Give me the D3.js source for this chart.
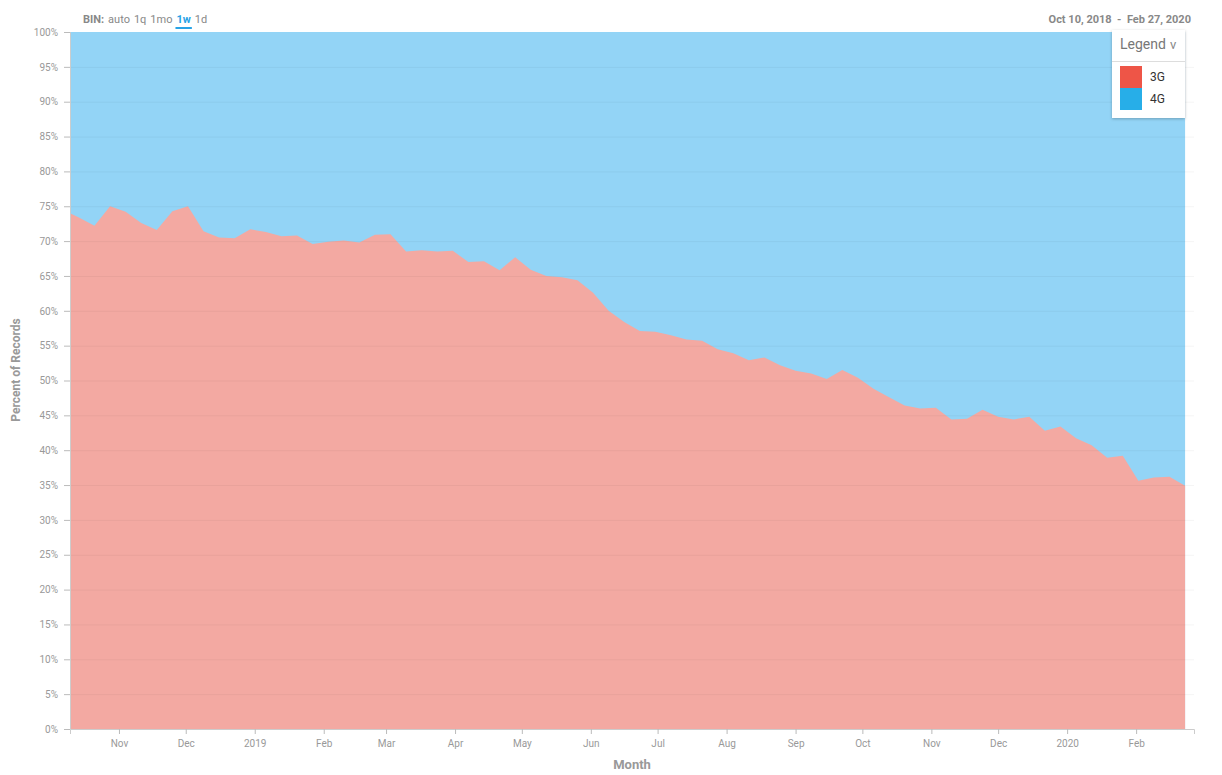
<!DOCTYPE html>
<html>
<head>
<meta charset="utf-8">
<script src="https://cdn.jsdelivr.net/npm/d3@7"></script>
<style>
  body { margin: 0; background: #fff; font-family: Roboto, "Open Sans", sans-serif; }
  svg { display: block; }
</style>
</head>
<body>
<svg id="chart" width="1222" height="775"></svg>
<script>
// ---- data ----
const weeks = [
  "2018-10-10","2018-10-14","2018-10-21","2018-10-28","2018-11-04","2018-11-11","2018-11-18","2018-11-25",
  "2018-12-02","2018-12-09","2018-12-16","2018-12-23","2018-12-30","2019-01-06","2019-01-13","2019-01-20",
  "2019-01-27","2019-02-03","2019-02-10","2019-02-17","2019-02-24","2019-03-03","2019-03-10","2019-03-17",
  "2019-03-24","2019-03-31","2019-04-07","2019-04-14","2019-04-21","2019-04-28","2019-05-05","2019-05-12",
  "2019-05-19","2019-05-26","2019-06-02","2019-06-09","2019-06-16","2019-06-23","2019-06-30","2019-07-07",
  "2019-07-14","2019-07-21","2019-07-28","2019-08-04","2019-08-11","2019-08-18","2019-08-25","2019-09-01",
  "2019-09-08","2019-09-15","2019-09-22","2019-09-29","2019-10-06","2019-10-13","2019-10-20","2019-10-27",
  "2019-11-03","2019-11-10","2019-11-17","2019-11-24","2019-12-01","2019-12-08","2019-12-15","2019-12-22",
  "2019-12-29","2020-01-05","2020-01-12","2020-01-19","2020-01-26","2020-02-02","2020-02-09","2020-02-16",
  "2020-02-23"
];
const series3G = [
  74.0,73.4,72.2,75.0,74.2,72.6,71.6,74.3,
  75.0,71.4,70.5,70.4,71.7,71.3,70.7,70.8,
  69.6,69.9,70.1,69.8,70.9,71.0,68.5,68.7,
  68.5,68.6,67.0,67.1,65.8,67.7,65.9,65.0,
  64.8,64.4,62.6,60.0,58.4,57.1,57.0,56.5,
  55.9,55.7,54.5,53.9,52.9,53.3,52.2,51.4,
  51.0,50.2,51.5,50.4,48.8,47.6,46.4,46.0,
  46.1,44.4,44.5,45.8,44.8,44.4,44.8,42.8,
  43.4,41.7,40.7,38.9,39.2,35.6,36.1,36.2,
  34.9
];
const series4G = [
  26.0,26.6,27.8,25.0,25.8,27.4,28.4,25.7,
  25.0,28.6,29.5,29.6,28.3,28.7,29.3,29.2,
  30.4,30.1,29.9,30.2,29.1,29.0,31.5,31.3,
  31.5,31.4,33.0,32.9,34.2,32.3,34.1,35.0,
  35.2,35.6,37.4,40.0,41.6,42.9,43.0,43.5,
  44.1,44.3,45.5,46.1,47.1,46.7,47.8,48.6,
  49.0,49.8,48.5,49.6,51.2,52.4,53.6,54.0,
  53.9,55.6,55.5,54.2,55.2,55.6,55.2,57.2,
  56.6,58.3,59.3,61.1,60.8,64.4,63.9,63.8,
  65.1
];
const seriesNames = ["3G", "4G"];
const seriesColors = ["#ee5547", "#27aee8"];
const areaColors = ["#f3a9a2", "#93d4f6"];
const yTicks = [0,5,10,15,20,25,30,35,40,45,50,55,60,65,70,75,80,85,90,95,100];
const binOptions = ["auto", "1q", "1mo", "1w", "1d"];
const rangeStart = "2018-10-10", rangeEnd = "2020-02-27";
const rangeLabel = "Oct 10, 2018  -  Feb 27, 2020";

// ---- build ----
const parse = d3.timeParse("%Y-%m-%d");
const rows = weeks.map((w, i) => ({ date: parse(w), "3G": series3G[i], "4G": series4G[i] }));

const svg = d3.select("#chart");
const mLeft = 70, mRight = 1194, mTop = 32, mBottom = 729;

const x = d3.scaleTime().domain([parse(rangeStart), parse(rangeEnd)]).range([mLeft, mRight]);
const y = d3.scaleLinear().domain([0, 100]).range([mBottom, mTop]);

const stacked = d3.stack().keys(seriesNames)(rows);

// draw 4G (upper layer) down to the baseline first, then 3G over it, to avoid a seam
const areaFull = d3.area()
  .x(d => x(d.data.date))
  .y0(y(0))
  .y1(d => y(d[1]));
const areaStack = d3.area()
  .x(d => x(d.data.date))
  .y0(d => y(d[0]))
  .y1(d => y(d[1]));

const gA = svg.append("g");
gA.append("path").datum(stacked[1]).attr("d", areaFull).attr("fill", areaColors[1]);
gA.append("path").datum(stacked[0]).attr("d", areaStack).attr("fill", areaColors[0]);

// gridlines on top
svg.append("g").selectAll("line")
  .data(yTicks.filter(t => t > 0 && t < 100))
  .join("line")
  .attr("x1", mLeft).attr("x2", mRight)
  .attr("y1", d => y(d) + 0.5).attr("y2", d => y(d) + 0.5)
  .attr("stroke", "#000").attr("stroke-opacity", 0.045);

// y axis
const yAxis = d3.axisLeft(y).tickValues(yTicks).tickFormat(d => d + "%").tickSize(6).tickPadding(6);
const gy = svg.append("g").attr("transform", `translate(${mLeft},0)`).call(yAxis);
gy.select(".domain").attr("stroke", "#ccc");
gy.selectAll(".tick line").attr("stroke", "#bbb");
gy.selectAll(".tick text").attr("fill", "#999").style("font-size", "10px").style("font-family", "Roboto");

// x axis
const xAxis = d3.axisBottom(x).ticks(d3.timeMonth.every(1))
  .tickFormat(d => d.getMonth() === 0 ? d3.timeFormat("%Y")(d) : d3.timeFormat("%b")(d))
  .tickSize(5).tickPadding(6);
const gx = svg.append("g").attr("transform", `translate(0,${mBottom})`).call(xAxis);
gx.select(".domain").attr("stroke", "#ccc");
gx.selectAll(".tick line").attr("stroke", "#bbb");
gx.selectAll(".tick text").attr("fill", "#999").style("font-size", "10px").style("font-family", "Roboto");

// axis titles
svg.append("text").attr("x", (mLeft + mRight) / 2).attr("y", 769)
  .attr("text-anchor", "middle").attr("fill", "#999")
  .style("font-size", "13px").style("font-weight", "bold").text("Month");
svg.append("text").attr("transform", "translate(20,370) rotate(-90)")
  .attr("text-anchor", "middle").attr("fill", "#999")
  .style("font-size", "12px").style("font-weight", "bold").text("Percent of Records");

// bin selector
const bin = svg.append("text").attr("x", 83).attr("y", 23).style("font-size", "11px");
bin.append("tspan").attr("fill", "#888").style("font-weight", "bold").text("BIN:");
binOptions.forEach(b => {
  bin.append("tspan").attr("dx", 4)
    .attr("fill", b === "1w" ? "#29a3e6" : "#888")
    .style("font-weight", b === "1w" ? "bold" : "normal")
    .attr("class", b === "1w" ? "sel" : null)
    .text(b);
});
const sel = bin.select(".sel").node();
const bb = sel.getBBox();
svg.append("rect").attr("x", bb.x - 1).attr("y", 27).attr("width", bb.width + 2).attr("height", 2).attr("fill", "#29a3e6");

// date range
svg.append("text").attr("x", 1191).attr("y", 23).attr("text-anchor", "end")
  .attr("fill", "#888").style("font-size", "11px").style("font-weight", "bold")
  .style("white-space", "pre").attr("xml:space", "preserve").text(rangeLabel);

// legend
const defs = svg.append("defs");
const f = defs.append("filter").attr("id", "sh").attr("x", "-20%").attr("y", "-20%").attr("width", "140%").attr("height", "140%");
f.append("feDropShadow").attr("dx", 0).attr("dy", 1).attr("stdDeviation", 1.5).attr("flood-color", "#000").attr("flood-opacity", 0.25);
const lg = svg.append("g").attr("transform", "translate(1112,30)");
lg.append("rect").attr("width", 73).attr("height", 88).attr("fill", "#fff").attr("filter", "url(#sh)");
lg.append("text").attr("x", 8).attr("y", 19).attr("fill", "#777").style("font-size", "14px").text("Legend");
lg.append("text").attr("x", 58).attr("y", 19).attr("fill", "#888").style("font-size", "13px").text("v");
lg.append("line").attr("x1", 0).attr("x2", 73).attr("y1", 31.5).attr("y2", 31.5).attr("stroke", "#ddd");
seriesNames.forEach((n, i) => {
  lg.append("rect").attr("x", 8).attr("y", 36 + i * 22).attr("width", 22).attr("height", 22).attr("fill", seriesColors[i]);
  lg.append("text").attr("x", 38).attr("y", 51 + i * 22).attr("fill", "#333").style("font-size", "12px").text(n);
});
</script>
</body>
</html>
